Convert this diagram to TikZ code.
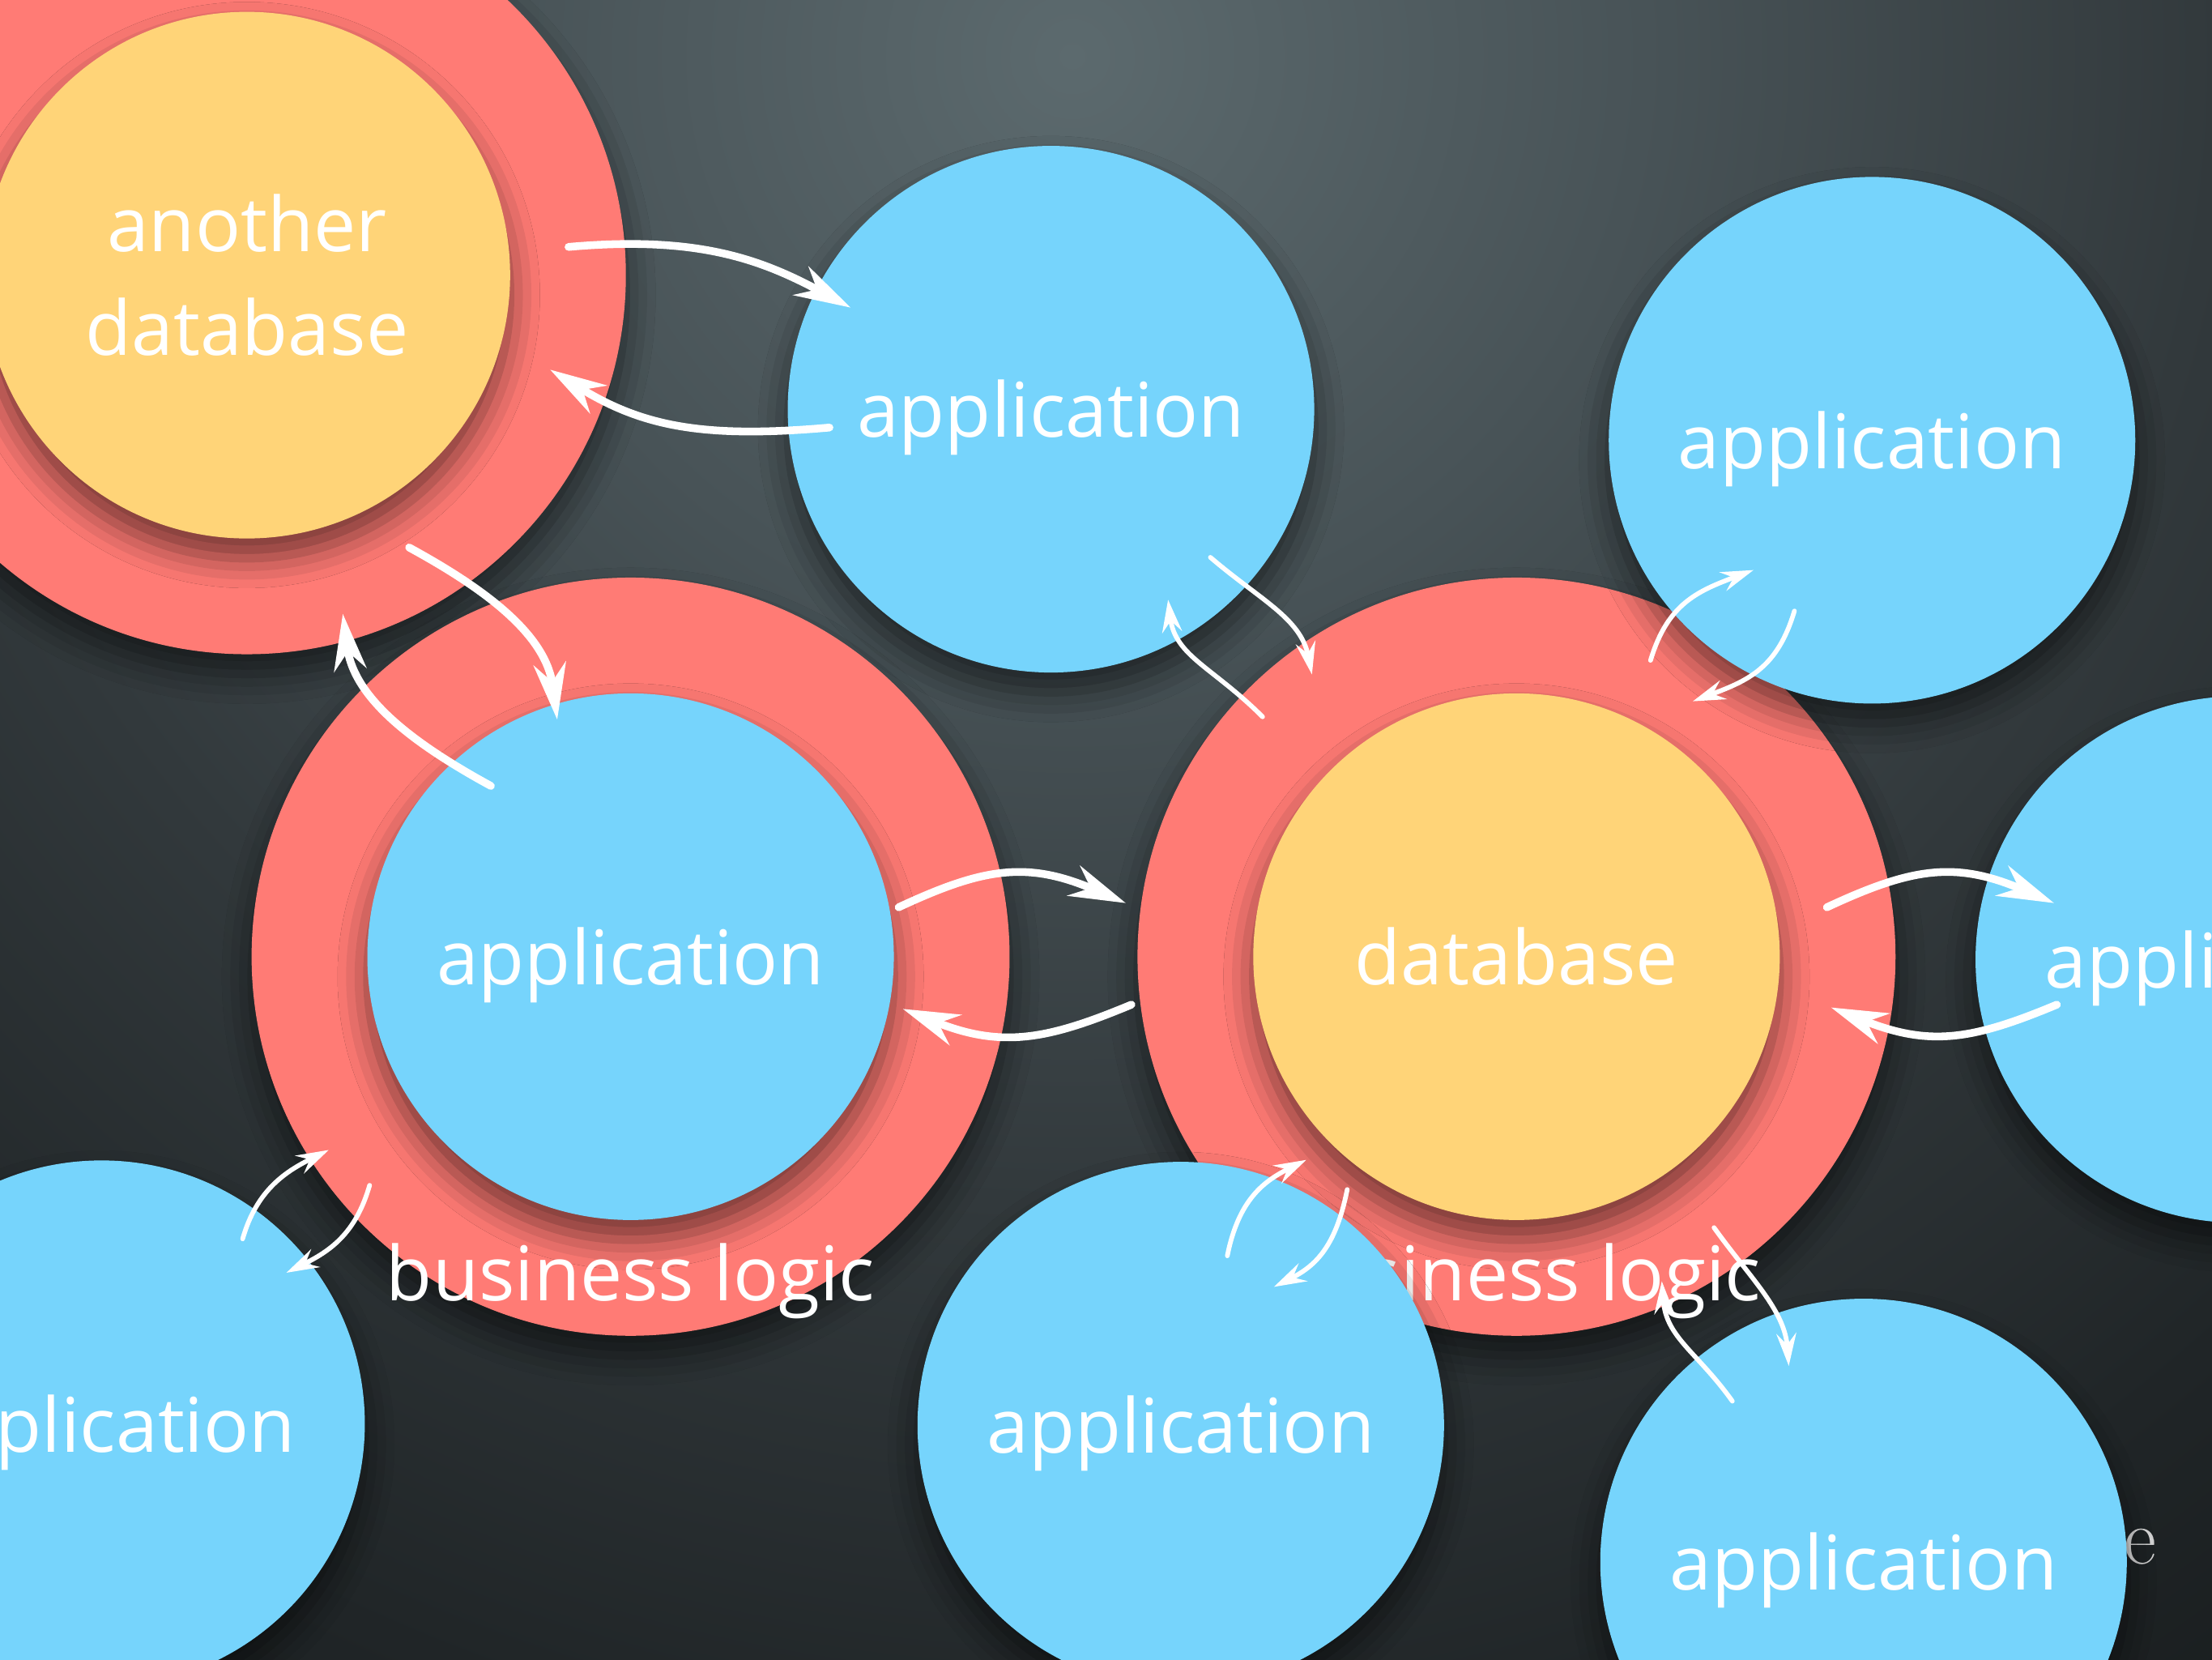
\documentclass[tikz,border=0pt]{standalone}
\usepackage{fontspec}
\newfontfamily\slidefont{Open Sans}
\usepackage{tikz}
\usetikzlibrary{arrows.meta,shadows.blur}
\definecolor{ringred}{RGB}{255,123,117}
\definecolor{appblue}{RGB}{118,212,252}
\definecolor{dbyellow}{RGB}{255,212,120}
\definecolor{bgA}{RGB}{92,106,110}
\definecolor{bgB}{RGB}{72,83,87}
\definecolor{bgC}{RGB}{50,57,60}
\definecolor{bgD}{RGB}{32,37,39}
\definecolor{bgE}{RGB}{22,26,27}
\definecolor{bgF}{RGB}{18,21,22}
\definecolor{ghost}{RGB}{215,215,215}
\pgfdeclareradialshading{slidebg}{\pgfpoint{0bp}{0bp}}{color(0bp)=(bgA); color(7bp)=(bgB); color(14bp)=(bgC); color(21bp)=(bgD); color(27bp)=(bgE); color(50bp)=(bgF)}

\begin{document}
\begin{tikzpicture}[x=0.01cm,y=-0.01cm,
  ring/.style={circle,inner sep=0pt,minimum size=5.37cm,fill=ringred,blur shadow={shadow xshift=0pt,shadow yshift=-4pt,shadow blur radius=6pt,shadow opacity=55}},
  disc/.style={circle,inner sep=0pt,minimum size=3.73cm,text=white,align=center,font=\slidefont\fontsize{15.2}{20.8}\selectfont,blur shadow={shadow xshift=0pt,shadow yshift=-4pt,shadow blur radius=6pt,shadow opacity=55}},
  oneline/.style={text height=0.53cm,text depth=0.13cm},
  app/.style={disc,oneline,fill=appblue},
  store/.style={disc,fill=dbyellow},
  tier/.style={text=white,font=\slidefont\fontsize{15.2}{20.8}\selectfont},
  bigarrow/.style={draw=white,line width=1.56pt,line cap=round,-{Stealth[length=4mm,width=2.3mm,inset=1.3mm]}},
  smallarrow/.style={draw=white,line width=0.94pt,line cap=round,-{Stealth[length=2.3mm,width=1.4mm,inset=0.8mm]}}
]
\useasboundingbox (0,0) rectangle (1568,1176);
\clip (0,0) rectangle (1568,1176);
\shade[shading=slidebg] (760,40) circle (1450);

\node[ring] (odbring) at (175,195) {};
\node[store] (odb) at (175,195) {another\\database};

\node[ring] (ringL) at (447,678) {};
\node[app] (appL) at (447,678) {application};
\node[tier] (logicL) at (447,908) {business logic};

\node[app] (app1) at (745,290) {application};

\node[ring] (ringR) at (1075,678) {};
\node[store,oneline] (db) at (1075,678) {database};
\node[tier] (logicR) at (1075,908) {business logic};

\node[app] (appTR) at (1327,312) {application};
\node[app] (appR) at (1587,680) {application};
\node[app] (appB) at (837,1010) {application};
\node[app] (appBL) at (72,1009) {application};
\node[text=ghost,font=\fontsize{16}{18}\selectfont] (ghost) at (1517,1096) {e};
\node[app] (appBR) at (1321,1107) {application};

\draw[bigarrow] ([shift={(228,-20)}]odb.center) .. controls +(90,-8) and +(-65,-35) .. ([shift={(-142,-72)}]app1.center);
\draw[bigarrow] ([shift={(-157,13)}]app1.center) .. controls +(-90,8) and +(65,40) .. ([shift={(215,67)}]odb.center);
\draw[bigarrow] ([shift={(115,193)}]odb.center) .. controls +(55,30) and +(-8,-60) .. ([shift={(-52,-168)}]appL.center);
\draw[bigarrow] ([shift={(-99,-121)}]appL.center) .. controls +(-55,-30) and +(8,60) .. ([shift={(68,240)}]odb.center);
\draw[bigarrow] ([shift={(190,-35)}]appL.center) .. controls +(60,-28) and +(-70,-30) .. ([shift={(-277,-38)}]db.center);
\draw[bigarrow] ([shift={(-273,34)}]db.center) .. controls +(-60,25) and +(70,28) .. ([shift={(193,37)}]appL.center);
\draw[bigarrow] ([shift={(220,-35)}]db.center) .. controls +(60,-28) and +(-70,-30) .. ([shift={(-131,-40)}]appR.center);
\draw[bigarrow] ([shift={(-129,32)}]appR.center) .. controls +(-60,25) and +(70,28) .. ([shift={(223,36)}]db.center);

\draw[smallarrow] ([shift={(113,105)}]app1.center) .. controls +(35,30) and +(-8,-40) .. ([shift={(-145,-200)}]db.center);
\draw[smallarrow] ([shift={(-180,-170)}]db.center) .. controls +(-35,-35) and +(5,40) .. ([shift={(83,135)}]app1.center);
\draw[smallarrow] ([shift={(95,-210)}]db.center) .. controls +(12,-40) and +(-40,15) .. ([shift={(-84,92)}]appTR.center);
\draw[smallarrow] ([shift={(-55,121)}]appTR.center) .. controls +(-12,40) and +(40,-15) .. ([shift={(125,-181)}]db.center);
\draw[smallarrow] ([shift={(33,-120)}]appB.center) .. controls +(8,-40) and +(-30,15) .. ([shift={(-149,144)}]db.center);
\draw[smallarrow] ([shift={(-120,165)}]db.center) .. controls +(-8,40) and +(30,-15) .. ([shift={(66,-98)}]appB.center);
\draw[smallarrow] ([shift={(140,192)}]db.center) .. controls +(25,35) and +(-3,-40) .. ([shift={(-53,-139)}]appBR.center);
\draw[smallarrow] ([shift={(-93,-114)}]appBR.center) .. controls +(-25,-35) and +(3,40) .. ([shift={(103,230)}]db.center);
\draw[smallarrow] ([shift={(100,-131)}]appBL.center) .. controls +(10,-35) and +(-30,15) .. ([shift={(-214,137)}]appL.center);
\draw[smallarrow] ([shift={(-185,162)}]appL.center) .. controls +(-10,35) and +(30,-15) .. ([shift={(131,-107)}]appBL.center);
\end{tikzpicture}
\end{document}
